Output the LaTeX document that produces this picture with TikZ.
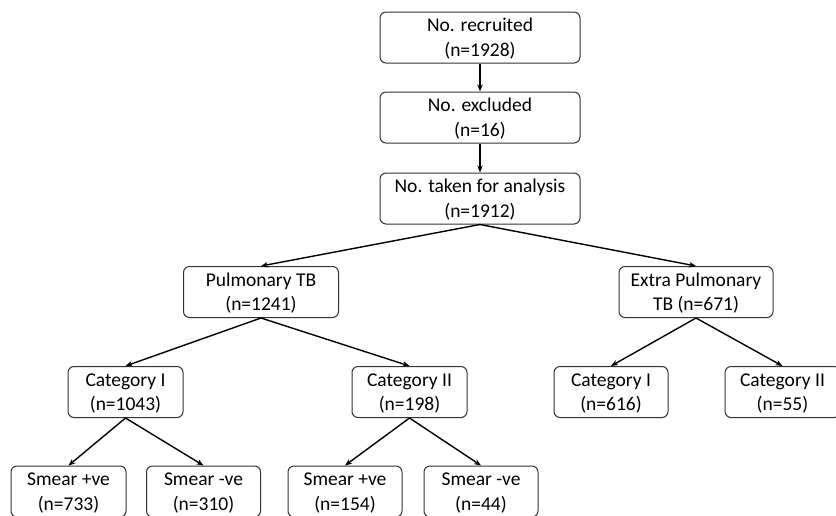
\documentclass[tikz,border=0pt]{standalone}
\usepackage{fontspec}
\setmainfont{Carlito}
\usetikzlibrary{arrows.meta}
\newcommand\topstrut{\rule{0pt}{15.5pt}}
\begin{document}
\begin{tikzpicture}[x=1pt,y=-1pt,
  box/.style={draw=black!80, line width=1pt, rounded corners=6pt, align=center,
    minimum height=51pt, inner sep=0pt, font=\fontsize{19.5}{24.5}\selectfont},
  arr/.style={-{Stealth[length=7pt,width=5.5pt]}, line width=1.4pt, black}]
\clip (0,0) rectangle (836,515);
\fill[white] (0,0) rectangle (836,515);
\node[box, minimum width=200pt] (rec) at (480,37.5) {\topstrut No. recruited\\(n=1928)};
\node[box, minimum width=200pt] (exc) at (480,117.5) {\topstrut No. excluded\\(n=16)};
\node[box, minimum width=200pt] (ana) at (480,198.5) {\topstrut No. taken for analysis\\(n=1912)};
\node[box, minimum width=155pt] (pul) at (261,292) {\topstrut Pulmonary TB\\(n=1241)};
\node[box, minimum width=154pt] (ext) at (696,292) {\topstrut Extra Pulmonary\\TB (n=671)};
\node[box, minimum width=115pt] (c1) at (125.5,392) {\topstrut Category I\\(n=1043)};
\node[box, minimum width=115pt] (c2) at (409.5,392) {\topstrut Category II\\(n=198)};
\node[box, minimum width=114pt] (c3) at (611,392) {\topstrut Category I\\(n=616)};
\node[box, minimum width=115pt] (c4) at (782.5,392) {\topstrut Category II\\(n=55)};
\node[box, minimum width=115pt] (s1) at (68.5,491.5) {\topstrut Smear +ve\\(n=733)};
\node[box, minimum width=114pt] (s2) at (203.5,491.5) {\topstrut Smear -ve\\(n=310)};
\node[box, minimum width=114pt] (s3) at (345,491.5) {\topstrut Smear +ve\\(n=154)};
\node[box, minimum width=114pt] (s4) at (481,491.5) {\topstrut Smear -ve\\(n=44)};
\draw[arr] (rec.south) -- (exc.north);
\draw[arr] (exc.south) -- (ana.north);
\draw[arr] (ana.south) -- (pul.north);
\draw[arr] (ana.south) -- (ext.north);
\draw[arr] (pul.south) -- (c1.north);
\draw[arr] (pul.south) -- (c2.north);
\draw[arr] (ext.south) -- (c3.north);
\draw[arr] (ext.south) -- (c4.north);
\draw[arr] (c1.south) -- (s1.north);
\draw[arr] (c1.south) -- (s2.north);
\draw[arr] (c2.south) -- (s3.north);
\draw[arr] (c2.south) -- (s4.north);
\end{tikzpicture}
\end{document}
